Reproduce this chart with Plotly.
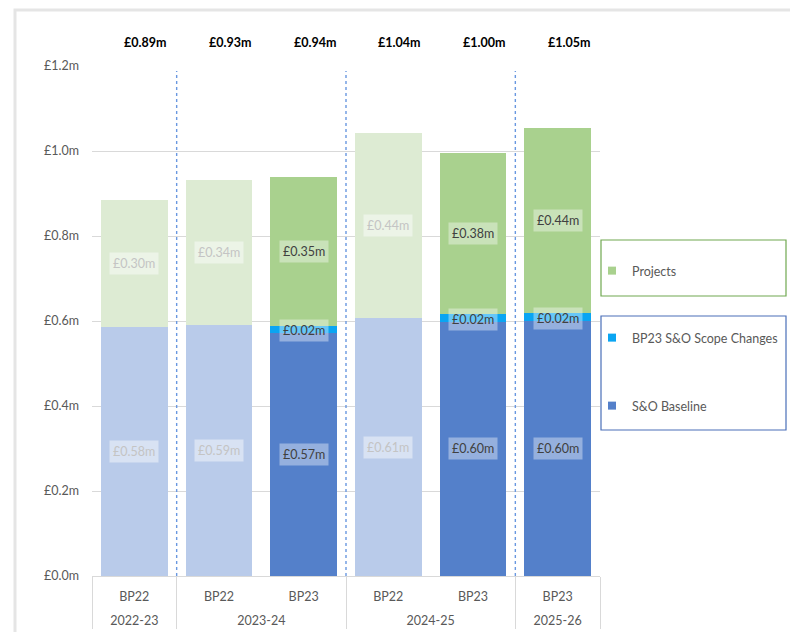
import plotly.graph_objects as go

# ---- data ----
years = ["2022-23", "2023-24", "2023-24", "2024-25", "2024-25", "2025-26"]
plans = ["BP22", "BP22", "BP23", "BP22", "BP23", "BP23"]
baseline = [0.585, 0.590, 0.572, 0.607, 0.598, 0.600]
scope = [0.0, 0.0, 0.017, 0.0, 0.018, 0.018]
projects = [0.300, 0.342, 0.350, 0.436, 0.380, 0.436]
y_ticks = [0.0, 0.2, 0.4, 0.6, 0.8, 1.0, 1.2]
y_tick_text = [f"£{v:.1f}m" for v in y_ticks]

FONT = "Lato, 'Open Sans', sans-serif"
FS = 12.5
OFF = 8  # page body margin
W, H = 798 - OFF, 632 - OFF
ML, MR, MT, MB = 84, 198, 58, 56
PW = W - ML - MR
PH = H - MT - MB

c_base = {"BP22": "#B9CBEA", "BP23": "#5480CA"}
c_scope = {"BP22": "#B9CBEA", "BP23": "#0AA5F2"}
c_proj = {"BP22": "#DDEBD3", "BP23": "#A9D18E"}

fig = go.Figure()
x = [["<br>" + y for y in years], plans]
fig.add_trace(go.Bar(x=x, y=baseline, name="S&O Baseline",
                     marker=dict(color=[c_base[p] for p in plans], line_width=0),
                     showlegend=False))
fig.add_trace(go.Bar(x=x, y=scope, name="BP23 S&O Scope Changes",
                     marker=dict(color=[c_scope[p] for p in plans], line_width=0),
                     showlegend=False))
fig.add_trace(go.Bar(x=x, y=projects, name="Projects",
                     marker=dict(color=[c_proj[p] for p in plans], line_width=0),
                     showlegend=False))

# legend entries (square markers), one legend each
for name, col, lg in [("Projects", "#A9D18E", "legend"),
                      ("BP23 S&O Scope Changes", "#0AA5F2", "legend2"),
                      ("S&O Baseline", "#5480CA", "legend3")]:
    fig.add_trace(go.Scatter(x=x, y=[None] * len(plans), mode="markers",
                             marker=dict(symbol="square", size=8, color=col),
                             name=name, legend=lg, showlegend=True))

ann = []
def seg_label(i, yv, val, active):
    ann.append(dict(
        x=i, y=yv, xref="x", yref="y", text=f"£{val:.2f}m", showarrow=False,
        font=dict(family=FONT, size=FS, color="#404040" if active else "#C4C4C4"),
        bgcolor="rgba(255,255,255,0.38)" if active else "rgba(255,255,255,0.45)",
        borderpad=3))

for i, p in enumerate(plans):
    active = p == "BP23"
    seg_label(i, baseline[i] / 2, baseline[i], active)
    if scope[i] > 0:
        seg_label(i, baseline[i] + scope[i] / 2 - 0.004, scope[i], active)
    seg_label(i, baseline[i] + scope[i] + projects[i] / 2, projects[i], active)
    total = baseline[i] + scope[i] + projects[i]
    ann.append(dict(x=i, y=1, xref="x", yref="paper", yshift=24, xshift=11,
                    yanchor="middle", xanchor="center",
                    text=f"<b>£{total:.2f}m</b>", showarrow=False,
                    font=dict(family=FONT, size=FS, color="#000000")))

shapes = []
# dashed separators between financial years
n = len(plans)
bounds = [i for i in range(1, n) if years[i] != years[i - 1]]
for b in bounds:
    xp = b / n
    shapes.append(dict(type="line", xref="paper", yref="paper", x0=xp, x1=xp,
                       y0=0, y1=0.99, line=dict(color="#6A98E0", width=1.4, dash="3px,3px")))

def px2x(px):
    return (px - OFF - ML) / PW
def px2y(py):
    return (H - MB - (py - OFF)) / PH

# legend borders
shapes.append(dict(type="rect", xref="paper", yref="paper",
                   x0=px2x(601), x1=px2x(786), y0=px2y(296), y1=px2y(240),
                   line=dict(color="#70A850", width=1.2), fillcolor="rgba(0,0,0,0)"))
shapes.append(dict(type="rect", xref="paper", yref="paper",
                   x0=px2x(601), x1=px2x(786), y0=px2y(430), y1=px2y(316),
                   line=dict(color="#4A6FB8", width=1.2), fillcolor="rgba(0,0,0,0)"))
# frame shadow
shapes.append(dict(type="rect", xref="paper", yref="paper",
                   x0=px2x(15), x1=px2x(830), y0=px2y(680), y1=px2y(10),
                   line=dict(color="rgba(0,0,0,0.10)", width=3), fillcolor="rgba(0,0,0,0)"))

def leg(px, py):
    return dict(x=px2x(px), y=px2y(py), xanchor="left", yanchor="middle",
                bgcolor="rgba(0,0,0,0)", borderwidth=0,
                font=dict(family=FONT, size=FS, color="#595959"))

fig.update_layout(
    width=W, height=H,
    margin=dict(l=ML, r=MR, t=MT, b=MB, autoexpand=False),
    paper_bgcolor="white", plot_bgcolor="white",
    barmode="stack", bargap=0.21,
    font=dict(family=FONT, size=FS, color="#595959"),
    annotations=ann, shapes=shapes,
    legend=leg(592, 271),
    legend2=leg(592, 338),
    legend3=leg(592, 406),
    xaxis=dict(type="multicategory", showdividers=True, dividercolor="#D9D9D9",
               dividerwidth=1, showline=True, linecolor="#D9D9D9", linewidth=1,
               showgrid=False, ticks="", automargin=False, ticklabelstandoff=9,
               tickfont=dict(family=FONT, size=FS, color="#595959")),
    yaxis=dict(range=[0, 1.2], tickvals=y_ticks, ticktext=y_tick_text,
               showgrid=True, gridcolor="#D9D9D9", gridwidth=1, automargin=False,
               zeroline=False, showline=False, ticklabelstandoff=12,
               tickfont=dict(family=FONT, size=FS, color="#595959")),
)

fig.write_html("out.html")
